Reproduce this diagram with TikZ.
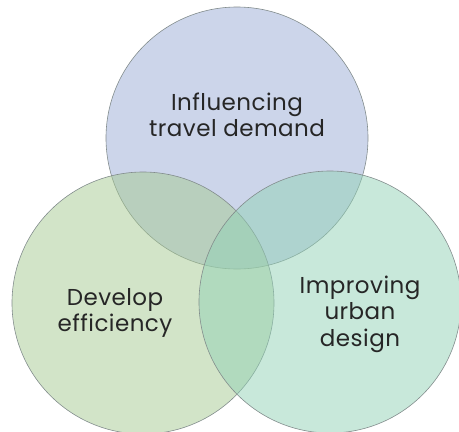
\documentclass[tikz,border=0pt]{standalone}
\usepackage{fontspec}
\setmainfont[LetterSpace=2]{Poppins}
\usepackage{tikz}
\usetikzlibrary{positioning}
\definecolor{topblue}{RGB}{153,171,213}
\definecolor{leftgreen}{RGB}{165,201,145}
\definecolor{rightmint}{RGB}{145,209,181}
\definecolor{rim}{RGB}{130,140,140}
\tikzset{
    venn/.style={circle,draw=rim,line width=0.6pt,fill opacity=0.5,minimum size=262pt,inner sep=0pt},
    vtext/.style={align=center,text=black!85,font=\fontsize{23}{26.5}\selectfont},
}

\begin{document}
\begin{tikzpicture}[x=1pt,y=-1pt]
    \useasboundingbox (0,0) rectangle (459,432);
    \node [venn,fill=topblue]   (travel) at (237,138) {};
    \node [venn,fill=leftgreen] (effic)  at (143,303) {};
    \node [venn,fill=rightmint] (urban)  at (330,302) {};

    \node [vtext] (travellbl) at (237,115) {Influencing\\travel demand};
    \node [vtext] (efficlbl)  at (115,313) {Develop\\efficiency};
    \node [vtext] (urbanlbl)  at (360,314) {Improving\\urban\\design};
\end{tikzpicture}
\end{document}
